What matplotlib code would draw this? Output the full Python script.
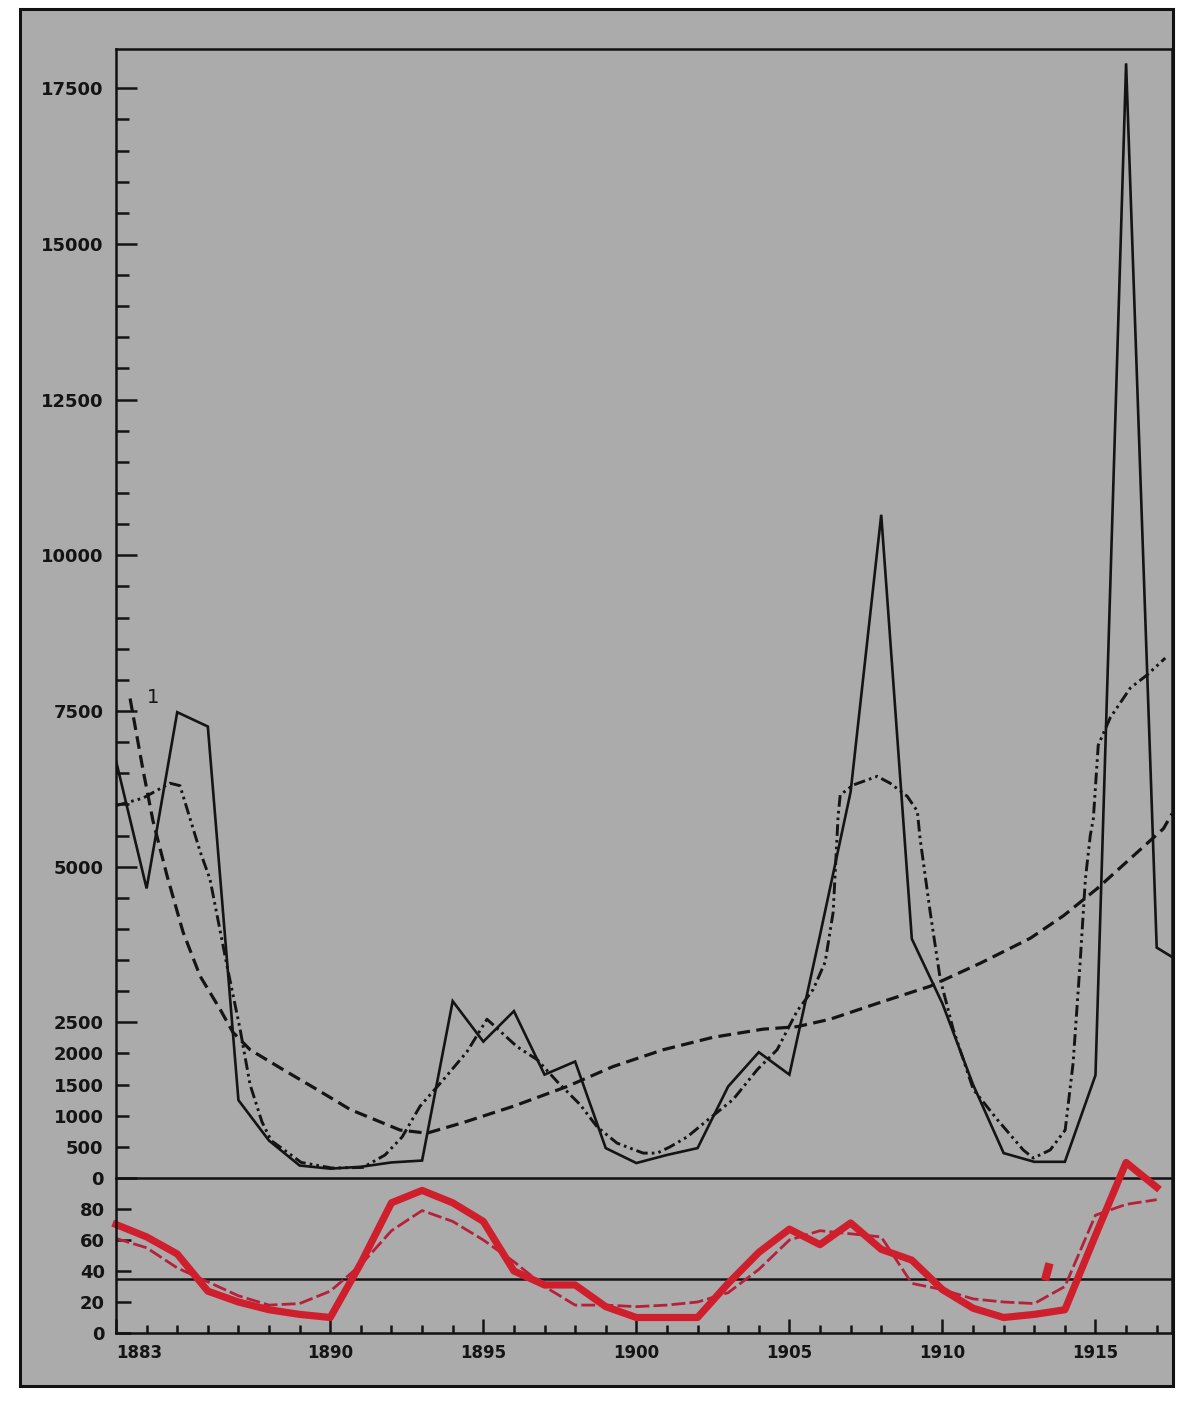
import matplotlib
matplotlib.use("Agg")
import matplotlib.pyplot as plt
from matplotlib.patches import Rectangle

# ---------------- data ----------------
years = list(range(1883, 1919))
actual = [6700, 4650, 7480, 7250, 1250, 600, 200, 150, 180, 250, 280, 2840,
          2190, 2680, 1660, 1870, 480, 240, 370, 480, 1470, 2020, 1660, 3900,
          6200, 10650, 3840, 2800, 1500, 400, 260, 260, 1650, 17900, 3700, 3400]

trend_years = [1883.46, 1883.88, 1884.21, 1884.67, 1885.19, 1885.75, 1886.40,
               1886.82, 1887.38, 1888.46, 1889.57, 1890.65, 1892.28, 1893.16,
               1894.34, 1895.97, 1897.74, 1899.24, 1900.88, 1902.51, 1904.14,
               1905.25, 1906.33, 1907.97, 1909.60, 1911.24, 1912.87, 1913.95,
               1915.06, 1916.14, 1917.22, 1917.5]
trend_vals = [7700, 6560, 5730, 4850, 3950, 3240, 2710, 2340, 2060, 1740, 1420,
              1100, 770, 720, 890, 1150, 1470, 1790, 2060, 2260, 2390, 2430,
              2550, 2820, 3080, 3450, 3850, 4210, 4650, 5130, 5610, 5850]

smooth_years = [1883.0, 1883.88, 1884.76, 1885.09, 1885.75, 1886.07, 1886.63,
                1887.05, 1887.38, 1887.77, 1888.07, 1888.69, 1889.05, 1890.06,
                1891.07, 1891.79, 1892.35, 1892.93, 1893.75, 1894.47, 1895.12,
                1896.10, 1896.76, 1897.41, 1898.16, 1898.72, 1899.37, 1900.22,
                1900.68, 1901.10, 1901.66, 1902.35, 1903.16, 1903.95, 1904.60,
                1905.25, 1905.78, 1906.17, 1906.43, 1906.59, 1906.66, 1907.08,
                1907.87, 1908.29, 1908.85, 1909.18, 1909.27, 1909.60, 1909.93,
                1910.35, 1911.01, 1911.79, 1912.64, 1912.97, 1913.52, 1914.01,
                1914.27, 1914.50, 1914.67, 1914.83, 1914.93, 1915.09, 1915.48,
                1916.14, 1916.69, 1917.28]
smooth_vals = [5980, 6100, 6340, 6300, 5240, 4800, 3400, 2400, 1500, 900, 600,
               380, 250, 160, 170, 370, 660, 1150, 1610, 2030, 2550, 2110, 1900,
               1550, 1180, 820, 560, 400, 400, 500, 660, 940, 1260, 1740, 2060,
               2680, 3030, 3470, 4270, 5800, 6150, 6310, 6450, 6340, 6130, 5890,
               5450, 4270, 3190, 2390, 1420, 940, 450, 320, 450, 770, 1850, 3470,
               4800, 5500, 5770, 6950, 7390, 7870, 8080, 8350]

low_years = list(range(1883, 1918))
red_thick = [70, 62, 51, 27, 20, 15, 12, 10, 45, 84, 92, 84, 72, 40, 31, 31, 17,
             10, 10, 10, 32, 52, 67, 57, 71, 54, 47, 28, 16, 10, 12, 15, 63, 110, 94]
red_thin = [61, 55, 42, 33, 24, 18, 19, 27, 44, 66, 79, 72, 60, 46, 30, 18, 18,
            17, 18, 20, 26, 41, 60, 66, 64, 62, 32, 28, 22, 20, 19, 30, 76, 83, 86]
blip_years = [1913.35, 1913.5]
blip_vals = [34, 45]
mean_level = 35

upper_major = [0, 2500, 5000, 7500, 10000, 12500, 15000, 17500]
upper_major_labels = ["0", "2500", "5000", "7500", "10000", "12500", "15000", "17500"]
upper_minor = [v for v in range(500, 17500, 500) if v % 2500 != 0]
upper_minor_labelled = {500: "500", 1000: "1000", 1500: "1500", 2000: "2000"}
lower_yticks = [0, 20, 40, 60, 80]
lower_ylabels = ["0", "20", "40", "60", "80"]
x_major = [1883, 1890, 1895, 1900, 1905, 1910, 1915]
x_major_labels = ["1883", "1890", "1895", "1900", "1905", "1910", "1915"]
x_minor = list(range(1884, 1918))

# ---------------- figure ----------------
W, H = 1201, 1407
fig = plt.figure(figsize=(W / 100, H / 100), dpi=100)
fig.patch.set_facecolor("white")

BG = "#ababab"
fig.add_artist(Rectangle((20 / W, 1 - 1386 / H), (1173 - 20) / W, (1386 - 9) / H,
                         transform=fig.transFigure, facecolor=BG,
                         edgecolor="#111111", lw=2.2, zorder=0))

L, R = 116, 1172
ax1 = fig.add_axes([L / W, 1 - 1178 / H, (R - L) / W, (1178 - 49) / H])
ax2 = fig.add_axes([L / W, 1 - 1333 / H, (R - L) / W, (1333 - 1178) / H])
for ax in (ax1, ax2):
    ax.set_facecolor("none")
    ax.set_xlim(1883, 1917.5)
    for s in ax.spines.values():
        s.set_color("#111111")
        s.set_linewidth(1.8)

BLK = "#141414"
FONT = dict(family="DejaVu Sans", weight="bold", size=13)

# upper panel
ax1.set_ylim(0, 18130)
ax1.plot(years, actual, color=BLK, lw=1.9, solid_joinstyle="miter", clip_on=True)
ax1.plot(trend_years, trend_vals, color=BLK, lw=2.3, dashes=(4, 2))
ax1.plot(smooth_years, smooth_vals, color=BLK, lw=2.1,
         dashes=(4, 1.4, 0.9, 1.4, 0.9, 1.4))
ax1.text(1884.2, 7715, "1", fontsize=14, color=BLK, ha="center", va="center",
         family="DejaVu Sans")

ax1.set_yticks(upper_major, upper_major_labels)
ax1.set_yticks(upper_minor, [upper_minor_labelled.get(v, "") for v in upper_minor],
               minor=True)
ax1.tick_params(axis="y", which="major", direction="in", length=15, width=1.8,
                pad=9, colors=BLK)
ax1.tick_params(axis="y", which="minor", direction="in", length=9, width=1.8,
                pad=9, colors=BLK)
ax1.set_xticks([])
ax1.tick_params(axis="x", which="both", length=0)
for lab in ax1.get_yticklabels(which="both"):
    lab.set(**FONT)

# lower panel
ax2.set_ylim(0, 100)
ax2.axhline(mean_level, color=BLK, lw=1.8)
ax2.plot(low_years, red_thin, color="#b8203a", lw=2.0, dashes=(5, 1.5))
ax2.plot(low_years, red_thick, color="#cf1f2c", lw=5.2, solid_joinstyle="round",
         clip_on=False)
ax2.plot(blip_years, blip_vals, color="#cf1f2c", lw=6, solid_capstyle="butt")
ax2.spines["top"].set_visible(False)

ax2.set_yticks(lower_yticks, lower_ylabels)
ax2.tick_params(axis="y", which="major", direction="in", length=11, width=1.8,
                pad=8, colors=BLK)
ax2.set_xticks(x_major, x_major_labels)
ax2.set_xticks(x_minor, minor=True)
ax2.tick_params(axis="x", which="major", direction="in", length=10, width=1.8,
                pad=8, colors=BLK)
ax2.tick_params(axis="x", which="minor", direction="in", length=6, width=1.8,
                colors=BLK)
for lab in ax2.get_yticklabels() + ax2.get_xticklabels():
    lab.set(**FONT)
for lab in ax2.get_xticklabels():
    lab.set_fontsize(12)
ax2.get_xticklabels()[0].set_horizontalalignment("left")

fig.savefig("out.png", dpi=100, facecolor=fig.get_facecolor())
